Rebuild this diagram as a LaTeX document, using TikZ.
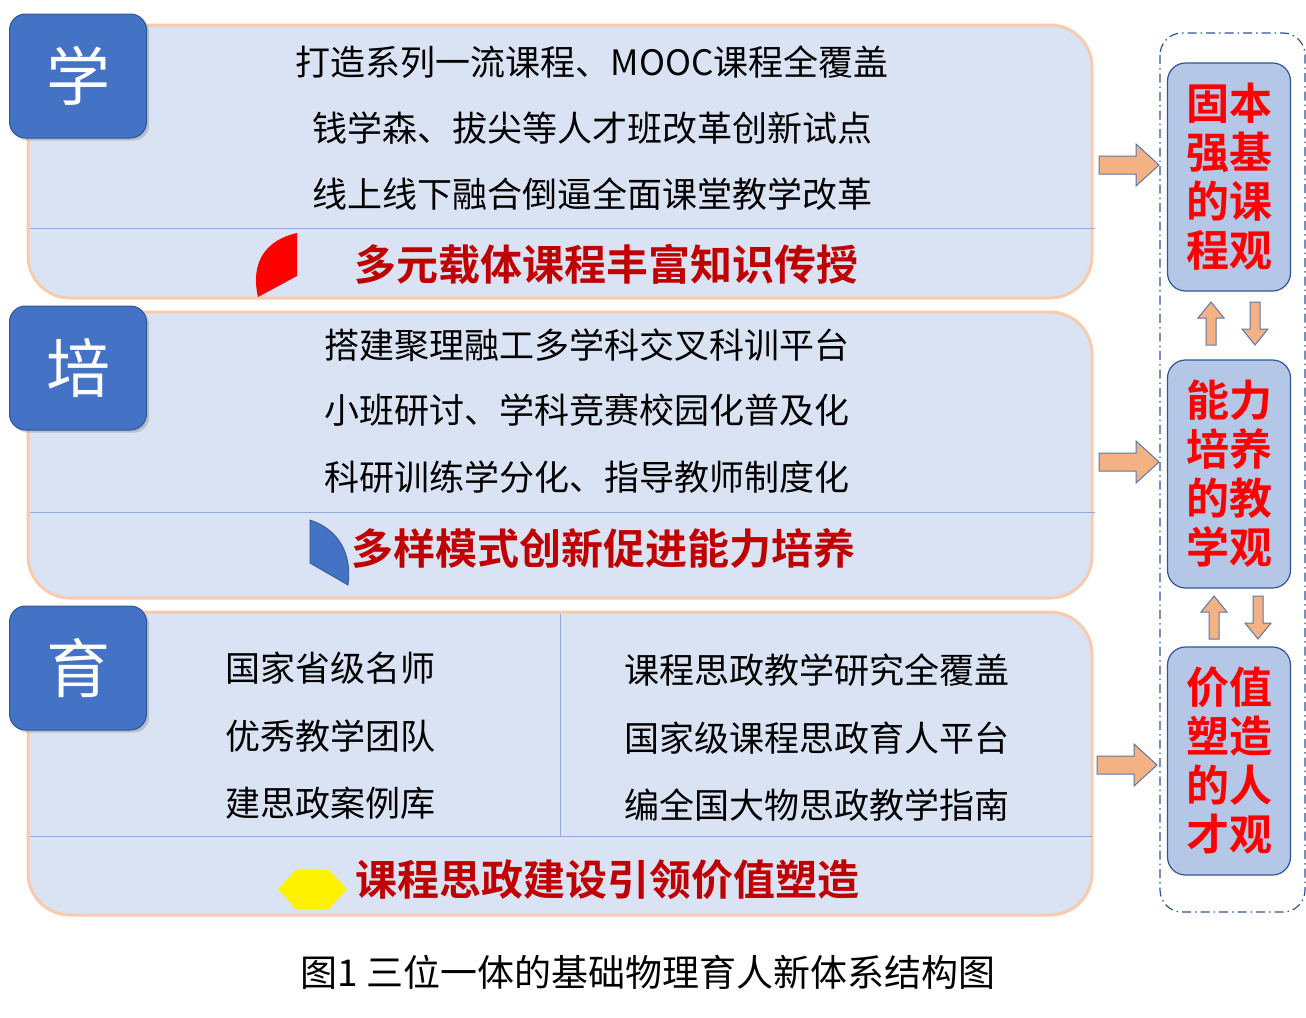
\documentclass[tikz,border=0pt]{standalone}
\usepackage{fontspec}
\setmainfont{Noto Sans CJK SC}
\newfontfamily\cjkb{Noto Sans CJK SC Bold}
\usetikzlibrary{shadows}
\definecolor{pfill}{HTML}{DAE3F3}
\definecolor{pedge}{HTML}{F8CBAD}
\definecolor{lblue}{HTML}{4472C4}
\definecolor{dblue}{HTML}{2F5597}
\definecolor{rfill}{HTML}{B4C7E7}
\definecolor{aor}{HTML}{F4B183}
\definecolor{rtxt}{HTML}{C00000}
\definecolor{divc}{HTML}{8FAADC}
\tikzset{
 panel/.style={draw=pedge,line width=3pt,fill=pfill,rounded corners=42pt},
 lab/.style={draw=dblue,line width=1pt,fill=lblue,rounded corners=16pt,drop shadow={opacity=0.35},minimum width=137pt,minimum height=124pt,text=white,font=\fontsize{64}{66}\selectfont},
 body/.style={font=\fontsize{35}{37}\selectfont,text=black},
 redt/.style={font=\cjkb\fontsize{42}{44}\selectfont,text=rtxt},
 rbox/.style={draw=dblue,line width=1.2pt,fill=rfill,rounded corners=18pt,minimum width=123pt,minimum height=228pt,text=red,align=center,font=\cjkb\fontsize{43}{49}\selectfont},
 divl/.style={draw=divc,line width=1pt},
 arr/.style={draw=dblue!80,line width=1pt,fill=aor},
 pics/rarr/.style={code={\draw[arr] (0,-9)--(37,-9)--(37,-21)--(60,0)--(37,21)--(37,9)--(0,9)--cycle;}},
 pics/uarr/.style={code={\draw[arr] (-5,43)--(-5,16)--(-13,16)--(0,0)--(13,16)--(5,16)--(5,43)--cycle;}},
 pics/darr/.style={code={\draw[arr] (-5,0)--(-5,27)--(-13,27)--(0,43)--(13,27)--(5,27)--(5,0)--cycle;}}
}
\begin{document}
\begin{tikzpicture}[x=1pt,y=-1pt]
\useasboundingbox (0,0) rectangle (1306,1017);
% panels
\draw[panel] (28,25) rectangle (1092,298);
\draw[panel] (28,312) rectangle (1092,598);
\draw[panel] (28,612) rectangle (1092,915);
\draw[divl] (30,228) -- (1095,228);
\draw[divl] (30,512) -- (1095,512);
\draw[divl] (30,836) -- (1092,836);
\draw[divl] (560,614) -- (560,836);
% labels
\node[lab] (l1) at (78,76) {学};
\node[lab] (l2) at (78,368) {培};
\node[lab] (l3) at (78,668) {育};
% panel 1 text
\node[body] (a1) at (592,62) {打造系列一流课程、MOOC课程全覆盖};
\node[body] (a2) at (592,128) {钱学森、拔尖等人才班改革创新试点};
\node[body] (a3) at (592,194) {线上线下融合倒逼全面课堂教学改革};
\node[redt] (a4) at (606,264) {多元载体课程丰富知识传授};
\fill[red] (258,297) .. controls (250,262) and (266,240) .. (297,233) -- (297,276) -- cycle;
% panel 2 text
\node[body] (b1) at (587,345) {搭建聚理融工多学科交叉科训平台};
\node[body] (b2) at (587,410) {小班研讨、学科竞赛校园化普及化};
\node[body] (b3) at (587,477) {科研训练学分化、指导教师制度化};
\node[redt] (b4) at (603,548) {多样模式创新促进能力培养};
\draw[fill=lblue,draw=dblue,line width=0.8pt] (310,520) -- (310,563) -- (348,585) .. controls (352,555) and (340,530) .. (310,520) -- cycle;
% panel 3 text
\node[body] (c1) at (330,668) {国家省级名师};
\node[body] (c2) at (330,736) {优秀教学团队};
\node[body] (c3) at (330,803) {建思政案例库};
\node[body] (d1) at (817,670) {课程思政教学研究全覆盖};
\node[body] (d2) at (817,738) {国家级课程思政育人平台};
\node[body] (d3) at (817,805) {编全国大物思政教学指南};
\node[redt] (c4) at (607,880) {课程思政建设引领价值塑造};
\fill[yellow] (278,889) -- (296,870) -- (329,870) -- (347,889) -- (329,909) -- (296,909) -- cycle;
% right side
\draw[dblue,line width=1.2pt,dash pattern=on 9pt off 4pt on 1.5pt off 4pt,rounded corners=22pt] (1160,33) rectangle (1305,912);
\node[rbox] (r1) at (1229,177) {固本\\强基\\的课\\程观};
\node[rbox] (r2) at (1229,474) {能力\\培养\\的教\\学观};
\node[rbox] (r3) at (1229,761) {价值\\塑造\\的人\\才观};
\pic at (1099,165) {rarr};
\pic at (1099,462) {rarr};
\pic at (1097,765) {rarr};
\pic at (1211,302) {uarr};
\pic at (1255,302) {darr};
\pic at (1214,596) {uarr};
\pic at (1258,596) {darr};
\node[font=\fontsize{37}{39}\selectfont] (cap) at (648,972) {图1 三位一体的基础物理育人新体系结构图};
\end{tikzpicture}
\end{document}
